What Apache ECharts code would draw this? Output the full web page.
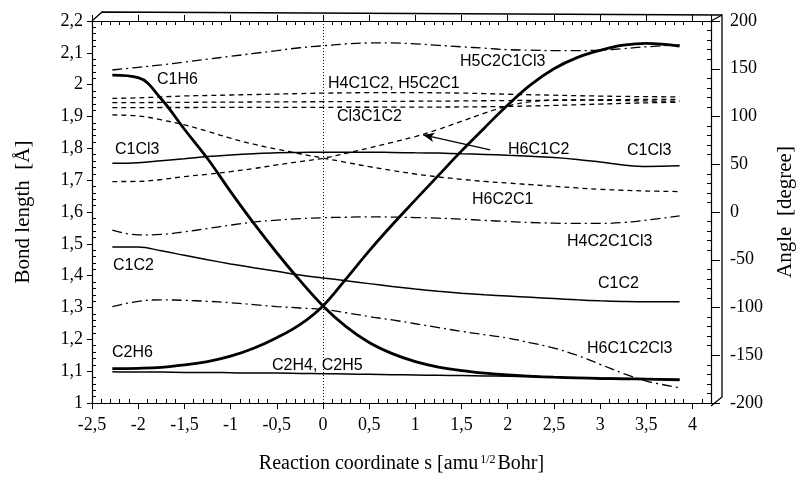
<!DOCTYPE html>
<html><head><meta charset="utf-8">
<script src="https://cdn.jsdelivr.net/npm/echarts@6/dist/echarts.min.js"></script>
<style>html,body{margin:0;padding:0;background:#fff}#c{width:804px;height:480px}</style>
</head><body><div id="c"></div>
<script>
// Reaction coordinate sample points
const sPoints = [-2.28,-2.0,-1.75,-1.5,-1.25,-1.0,-0.75,-0.5,-0.25,0,0.25,0.5,0.75,1.0,1.25,1.5,1.75,2.0,2.25,2.5,2.75,3.0,3.25,3.5,3.86];
// Bond lengths (Å)
const C1H6   = [2.03,2.022,1.955,1.86,1.768,1.664,1.565,1.472,1.385,1.305,1.24,1.19,1.155,1.13,1.113,1.102,1.094,1.088,1.084,1.081,1.079,1.077,1.076,1.075,1.073];
const C2H6   = [1.108,1.109,1.112,1.12,1.13,1.147,1.172,1.205,1.246,1.305,1.39,1.478,1.56,1.638,1.715,1.792,1.865,1.936,2.0,2.05,2.085,2.108,2.124,2.13,2.121];
const C1C2   = [1.49,1.49,1.478,1.464,1.45,1.437,1.425,1.414,1.402,1.393,1.384,1.375,1.366,1.358,1.351,1.345,1.34,1.336,1.332,1.328,1.324,1.321,1.319,1.318,1.318];
const C1Cl3  = [1.753,1.755,1.761,1.767,1.774,1.779,1.783,1.786,1.787,1.788,1.788,1.788,1.787,1.786,1.785,1.783,1.781,1.778,1.775,1.771,1.765,1.757,1.748,1.743,1.745];
const C2H4_C2H5 = [1.098,1.097,1.097,1.096,1.096,1.095,1.094,1.094,1.093,1.092,1.091,1.09,1.089,1.088,1.087,1.086,1.085,1.084,1.083,1.081,1.079,1.078,1.077,1.075,1.073];
// Angles (degree)
const H5C2C1Cl3 = [148.7,151.5,154,157,160,163,166,169,172,174,176,177,177,176,174.5,173,171.5,170,169.5,169,169,169.5,171,173,175];
const H4C1C2 = [119,119.5,120.5,121.5,122,122.5,123,123.5,124,124.5,124.7,125,125,125,124.8,124.5,124,123.3,122.8,122.3,121.8,121.4,121,120.8,120.5];
const H5C2C1 = [114.5,114.6,114.7,114.8,115,115.1,115.2,115.3,115.4,115.5,115.6,115.7,115.8,116,116.1,116.3,116.5,116.7,116.9,117.1,117.3,117.5,117.7,117.9,118];
const Cl3C1C2 = [109.3,109.3,109.4,109.4,109.5,109.5,109.5,109.6,109.6,109.6,109.7,109.7,109.8,109.8,109.9,110,110.2,110.5,111,111.6,112.3,113,113.7,114.3,115];
const H6C2C1 = [101.6,100.6,96.5,91.2,84.5,77.3,71,65.8,61,56.5,52,47.5,43.5,39.8,36.7,34.2,32,30.3,28.6,26.9,25.2,23.8,22.8,22,21.4];
const H6C1C2 = [31.9,32,34,37.1,39.5,42.3,45.5,49.3,52.8,56.3,61.5,67,73,79,86.5,95,103.5,111,115.5,117,117.3,117,116.7,116.3,116];
const H4C2C1Cl3 = [-19,-24,-23.5,-20.8,-17.3,-13.7,-10.5,-8.5,-7,-6,-5.5,-5,-5.3,-5.8,-6.5,-7.5,-8.8,-10,-11,-11.7,-12,-12,-11,-8.5,-4];
const H6C1C2Cl3 = [-99,-93.5,-92,-92.5,-93.5,-95,-97,-99,-100.5,-102,-105.5,-109.5,-113,-117,-121,-125,-128.5,-132,-137,-142.5,-150,-159.5,-169,-177,-184];
// Arrow annotation (data coords) and dotted reference at s = 0
const arrowFrom = [1.81, 1.795];
const arrowTo = [1.085, 1.842];
const refS = 0;

const pair = arr => sPoints.map((s,i)=>[s, arr[i]]);
const fmt = v => String(Math.round(v*100)/100).replace('.', ',');
const serif = '"Liberation Serif","Times New Roman",serif';
const sans = '"Liberation Sans",Arial,sans-serif';

const thick = {color:'#000', width:2.8, type:'solid'};
const thin = {color:'#000', width:1.5, type:'solid'};
const dash = {color:'#000', width:1.3, type:[5,4]};
const dashdot = {color:'#000', width:1.3, type:[10,4,2,4]};

function line(name, arr, yIdx, ls, extra){
  return Object.assign({type:'line', name, data: pair(arr), xAxisIndex:0, yAxisIndex:yIdx,
    showSymbol:false, symbol:'none', smooth:0.4, lineStyle:ls, z:3, animation:false}, extra||{});
}

const minorAxis = (pos, min, max, interval) => ({
  type:'value', position:pos, min, max, interval,
  axisLine:{show:false, onZero:false}, axisLabel:{show:false}, splitLine:{show:false},
  axisTick:{show:true, inside:true, length:0, lineStyle:{color:'#000', width:0}},
  minorTick:{show:true, splitNumber:5, length:4, lineStyle:{color:'#000', width:1}}
});

const labels = [
  ['C1H6',157,80],['H4C1C2, H5C2C1',328,84],['Cl3C1C2',337,117],['H5C2C1Cl3',460,62],
  ['C1Cl3',115,150],['H6C1C2',508,150],['C1Cl3',627,151],['H6C2C1',472,200],
  ['H4C2C1Cl3',567,242],['C1C2',113,266],['C1C2',598,284],['H6C1C2Cl3',587,349],
  ['C2H6',112,353],['C2H4, C2H5',272,366]
];

const chart = echarts.init(document.getElementById('c'), null, {renderer:'canvas'});
chart.setOption({
  animation:false,
  backgroundColor:'#fff',
  grid:{left:92, right:93, top:21, bottom:77, containLabel:false, outerBoundsMode:'none'},
  xAxis:[
    {type:'value', position:'bottom', min:-2.5, max:4.2, interval:0.5,
     axisLine:{onZero:false, lineStyle:{color:'#000', width:1.2}},
     axisTick:{show:true, length:6, lineStyle:{color:'#000'}},
     axisLabel:{color:'#000', fontFamily:serif, fontSize:18, margin:13, formatter:fmt, showMaxLabel:false},
     splitLine:{show:false},
     name:'{a|Reaction coordinate s [amu}{b|1/2}{a|Bohr]}', nameLocation:'middle', nameGap:51,
     nameTextStyle:{rich:{a:{fontFamily:serif, fontSize:20, color:'#000'}, b:{fontFamily:serif, fontSize:12, color:'#000', padding:[0,2,8,2]}}}},
    minorAxis('bottom', -2.5, 4.2, 0.5),
    {type:'value', position:'top', min:-2.5, max:4.2, interval:0.5,
     axisLine:{onZero:false, lineStyle:{color:'#000', width:1.2}}, axisTick:{show:true, length:6, lineStyle:{color:'#000'}},
     axisLabel:{show:false}, splitLine:{show:false}},
    minorAxis('top', -2.5, 4.2, 0.5)
  ],
  yAxis:[
    {type:'value', position:'left', min:1, max:2.2, interval:0.1,
     axisLine:{show:true, onZero:false, lineStyle:{color:'#000', width:1.2}},
     axisTick:{show:true, length:5, lineStyle:{color:'#000'}},
     axisLabel:{color:'#000', fontFamily:serif, fontSize:18, margin:9, formatter:fmt},
     splitLine:{show:false},
     name:'Bond length  [Å]', nameLocation:'middle', nameGap:58, nameRotate:90,
     nameTextStyle:{fontFamily:serif, fontSize:21, color:'#000'}},
    minorAxis('left', 1, 2.2, 0.1),
    {type:'value', position:'right', min:-200, max:200, interval:50,
     axisLine:{show:true, onZero:false, lineStyle:{color:'#000', width:1.2}},
     axisTick:{show:true, length:9, lineStyle:{color:'#000'}},
     axisLabel:{color:'#000', fontFamily:serif, fontSize:18, margin:19, formatter:fmt},
     splitLine:{show:false},
     name:'Angle  [degree]', nameLocation:'middle', nameGap:64, nameRotate:90,
     nameTextStyle:{fontFamily:serif, fontSize:21, color:'#000'}},
    minorAxis('right', -200, 200, 50)
  ],
  series:[
    line('C1H6', C1H6, 0, thick),
    line('C2H6', C2H6, 0, thick),
    line('C1C2', C1C2, 0, thin),
    line('C1Cl3', C1Cl3, 0, thin, {
      markLine:{silent:true, symbol:['none','arrow'], symbolSize:[7,11], label:{show:false},
        lineStyle:{color:'#000', width:1.3, type:'solid'},
        data:[[{coord:arrowFrom},{coord:arrowTo}]]}
    }),
    line('C2H4, C2H5', C2H4_C2H5, 0, thin, {
      markLine:{silent:true, symbol:['none','none'], label:{show:false},
        lineStyle:{color:'#000', width:1, type:[1,2]},
        data:[{xAxis:refS}]}
    }),
    line('H5C2C1Cl3', H5C2C1Cl3, 2, dashdot),
    line('H4C1C2', H4C1C2, 2, dash),
    line('H5C2C1', H5C2C1, 2, dash),
    line('Cl3C1C2', Cl3C1C2, 2, dash),
    line('H6C2C1', H6C2C1, 2, dash),
    line('H6C1C2', H6C1C2, 2, dash),
    line('H4C2C1Cl3', H4C2C1Cl3, 2, dashdot),
    line('H6C1C2Cl3', H6C1C2Cl3, 2, dashdot)
  ],
  graphic:[
    {type:'polyline', shape:{points:[[92,21],[102,12],[722,15],[722,397],[711,406]]}, style:{stroke:'#000', fill:null, lineWidth:1.3}, z:10},
    {type:'line', shape:{x1:711, y1:21, x2:722, y2:15}, style:{stroke:'#000', lineWidth:1.3}, z:10}
  ].concat(labels.map(l=>({type:'text', x:l[1], y:l[2], z:10,
     style:{text:l[0], font:'16px '+sans, fill:'#000', verticalAlign:'middle', align:'left'}})))
});
</script></body></html>
